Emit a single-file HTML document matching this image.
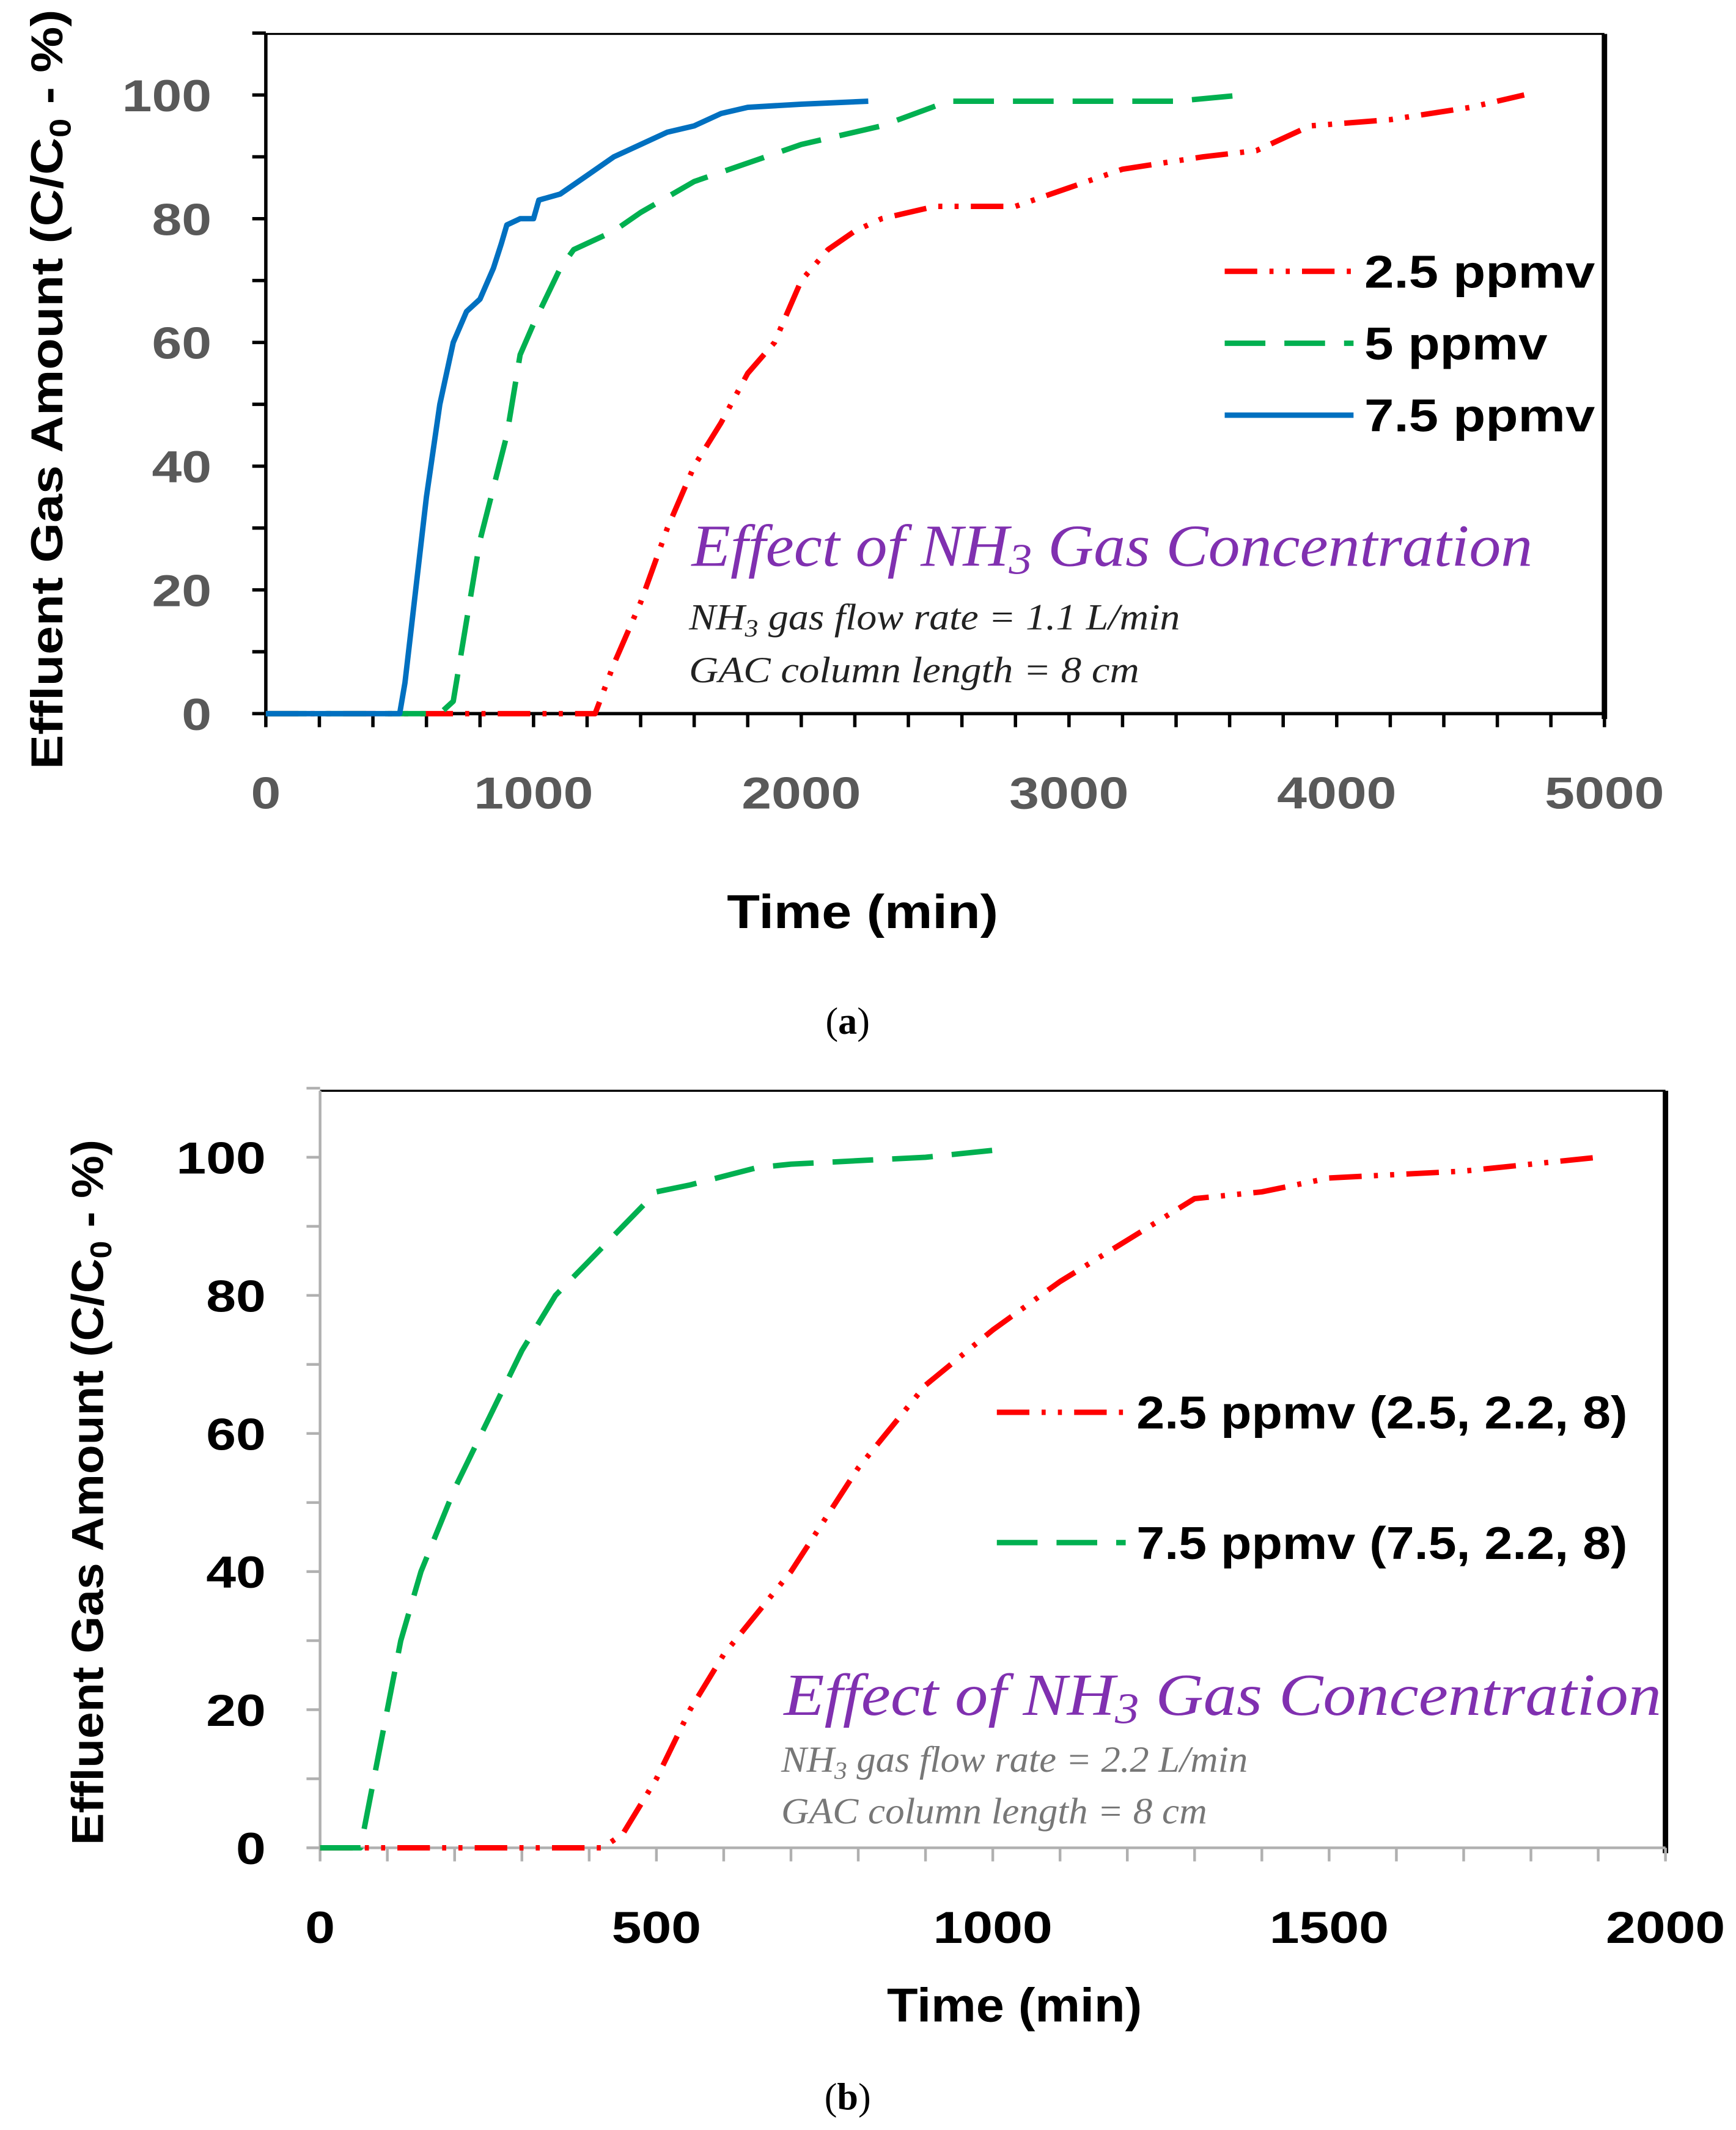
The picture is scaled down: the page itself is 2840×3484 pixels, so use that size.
<!DOCTYPE html>
<html><head><meta charset="utf-8"><style>
html,body{margin:0;padding:0;background:#fff;}
svg{display:block;}
text{font-family:"Liberation Sans",sans-serif;}
.ser{font-family:"Liberation Serif",serif;}
</style></head><body>
<svg id="svg" width="2840" height="3484" viewBox="0 0 1280 1570" preserveAspectRatio="none" xmlns="http://www.w3.org/2000/svg">
<g id="ga"></g>
<g id="gb"></g>
<text x="625" y="762" text-anchor="middle" class="ser" font-size="28">(<tspan font-weight="bold">a</tspan>)</text>
<text x="625" y="1555" text-anchor="middle" class="ser" font-size="28">(<tspan font-weight="bold">b</tspan>)</text>
</svg>
<script>
// Chart A data
const aBlueX=[0,500,520,560,600,650,700,750,800,850,880,900,950,1000,1020,1100,1200,1300,1400,1500,1600,1700,1800,2000,2250];
const aBlueY=[0,0,5,20,35,50,60,65,67,72,76,79,80,80,83,84,87,90,92,94,95,97,98,98.5,99];
const aGreenX=[0,650,700,750,800,900,950,1000,1100,1150,1300,1400,1600,1800,2000,2300,2550,3000,3400,3650];
const aGreenY=[0,0,2,15,28,45,58,63,72,75,78,81,86,89,92,95,99,99,99,100];
const aRedX=[0,1230,1300,1400,1500,1600,1700,1800,1900,1950,2000,2100,2200,2300,2500,2800,3000,3200,3500,3700,3900,4200,4500,4700];
const aRedY=[0,0,8,18,30,40,47,55,60,65,70,75,78,80,82,82,85,88,90,91,95,96,98,100];
const aXTicks=[0,1000,2000,3000,4000,5000];
const aYTicks=[0,20,40,60,80,100];
// Chart B data
const bGreenX=[0,60,90,120,150,200,250,300,350,400,450,500,550,650,700,800,900,1000];
const bGreenY=[0,0,15,30,40,52,62,72,80,85,90,95,96,98.5,99,99.5,100,101];
const bRedX=[0,420,450,500,550,600,700,800,900,1000,1100,1200,1300,1400,1500,1700,1900];
const bRedY=[0,0,2,10,20,28,40,55,67,75,82,88,94,95,97,98,100];
const bXTicks=[0,500,1000,1500,2000];
const bYTicks=[0,20,40,60,80,100];

const NS="http://www.w3.org/2000/svg";
function mk(p,tag,at,txt){const e=document.createElementNS(NS,tag);for(const k in at)e.setAttribute(k,at[k]);if(txt!==undefined)e.textContent=txt;p.appendChild(e);return e;}
function fit(e,len){e.setAttribute('textLength',len);e.setAttribute('lengthAdjust','spacingAndGlyphs');}

function chart(g,o){
  const sx=v=>o.x0+(v-o.xmin)/(o.xmax-o.xmin)*(o.x1-o.x0);
  const sy=v=>o.y0-(v/100)*(o.y0-o.y100);
  let e;
  e=mk(g,'line',{x1:o.x0,y1:o.top,x2:o.x1,y2:o.top,stroke:'#000','stroke-width':1.5});
  
  e=mk(g,'line',{x1:o.x1,y1:o.top,x2:o.x1,y2:o.y0+4,stroke:'#000','stroke-width':4});
  
  e=mk(g,'line',{x1:o.x0,y1:o.top,x2:o.x0,y2:o.y0,stroke:o.ax,'stroke-width':o.aw});
  
  e=mk(g,'line',{x1:o.x0-10,y1:o.y0,x2:o.x1,y2:o.y0,stroke:o.ax,'stroke-width':o.aw});
  
  for(let v=0;v<=110;v+=10){
    e=mk(g,'line',{x1:o.x0-10,y1:sy(v),x2:o.x0,y2:sy(v),stroke:o.ax,'stroke-width':o.aw});
    
  }
  o.yt.forEach(v=>{
    e=mk(g,'text',{x:o.x0-40,y:sy(v)+12,'text-anchor':'end','font-size':33,'font-weight':'bold',fill:o.tc},String(v));
    fit(e,String(v).length*22);
    
  });
  const step=(o.xt[1]-o.xt[0])/5;
  for(let v=o.xmin;v<=o.xmax+1e-6;v+=step){
    e=mk(g,'line',{x1:sx(v),y1:o.y0,x2:sx(v),y2:o.y0+10,stroke:o.ax,'stroke-width':o.aw});
    
  }
  o.xt.forEach(v=>{
    e=mk(g,'text',{x:sx(v),y:o.y0+70,'text-anchor':'middle','font-size':33,'font-weight':'bold',fill:o.tc},String(v));
    fit(e,String(v).length*22);
    
  });
  e=mk(g,'text',{x:o.xtX,y:o.xtY,'text-anchor':'middle','font-size':35,'font-weight':'bold',fill:'#000'},'Time (min)');
  fit(e,o.xtL);
  
  e=mk(g,'text',{transform:`translate(${o.ytX},${o.ytY}) rotate(-90)`,'text-anchor':'middle','font-size':33,'font-weight':'bold',fill:'#000'});
  e.innerHTML='Effluent Gas Amount (C/C<tspan font-size="22" dy="6">0</tspan><tspan dy="-6"> - %)</tspan>';
  fit(e,o.ytL);
  
  o.series.forEach(s=>{
    const d=s.x.map((v,i)=>(i?'L':'M')+sx(v).toFixed(1)+','+sy(s.y[i]).toFixed(1)).join(' ');
    e=mk(g,'path',{d:d,fill:'none',stroke:s.c,'stroke-width':4,'stroke-dasharray':s.dash||'none','stroke-linejoin':'round'});
    
  });
  o.legend.forEach(l=>{
    e=mk(g,'line',{x1:l.x,y1:l.y,x2:l.x+95,y2:l.y,stroke:l.c,'stroke-width':4,'stroke-dasharray':l.dash||'none'});
    
    e=mk(g,'text',{x:l.x+103,y:l.y+12,'font-size':34,'font-weight':'bold',fill:'#000'},l.t);
    fit(e,l.w);
    
  });
  e=mk(g,'text',{x:o.an.x,y:o.an.y,'font-size':44,'font-style':'italic',fill:'#8030b0',class:'ser'});
  e.innerHTML='Effect of NH<tspan font-size="32" dy="6">3</tspan><tspan dy="-6"> Gas Concentration</tspan>';
  fit(e,o.an.w);
  
  e=mk(g,'text',{x:o.an.x-2,y:o.an.y+o.an.d1,'font-size':27,'font-style':'italic',fill:o.an.c,class:'ser'});
  e.innerHTML='NH<tspan font-size="18" dy="5">3</tspan><tspan dy="-5"> gas flow rate = '+o.an.f+' L/min</tspan>';
  fit(e,o.an.w1);
  
  e=mk(g,'text',{x:o.an.x-2,y:o.an.y+o.an.d2,'font-size':27,'font-style':'italic',fill:o.an.c,class:'ser'},'GAC column length = 8 cm');
  fit(e,o.an.w2);
  
}
const RD='24 9 3 9 3 9', GD='30 14';
chart(document.getElementById('ga'),{x0:196,x1:1183,xmin:0,xmax:5000,y0:526,y100:70,top:25,ax:'#000',aw:2.5,tc:'#595959',
  xt:aXTicks,yt:aYTicks,xtX:636,xtY:684,xtL:200,ytX:46,ytY:287,ytL:560,
  series:[{x:aRedX,y:aRedY,c:'#ff0000',dash:RD,name:'series-2.5-ppmv'},{x:aGreenX,y:aGreenY,c:'#00b050',dash:GD,name:'series-5-ppmv'},{x:aBlueX,y:aBlueY,c:'#0070c0',name:'series-7.5-ppmv'}],
  legend:[{x:903,y:200,c:'#ff0000',dash:RD,t:'2.5 ppmv',w:170},{x:903,y:253,c:'#00b050',dash:GD,t:'5 ppmv',w:135},{x:903,y:306,c:'#0070c0',t:'7.5 ppmv',w:170}],
  an:{x:510,y:417,f:'1.1',c:'#222',w:620,d1:47,d2:86,w1:362,w2:332}});
chart(document.getElementById('gb'),{x0:236,x1:1228,xmin:0,xmax:2000,y0:1362,y100:853,top:804,ax:'#b0b0b0',aw:2,tc:'#000',
  xt:bXTicks,yt:bYTicks,xtX:748,xtY:1490,xtL:188,ytX:76,ytY:1100,ytL:520,
  series:[{x:bRedX,y:bRedY,c:'#ff0000',dash:RD,name:'series-2.5-ppmv'},{x:bGreenX,y:bGreenY,c:'#00b050',dash:GD,name:'series-7.5-ppmv'}],
  legend:[{x:735,y:1041,c:'#ff0000',dash:RD,t:'2.5 ppmv (2.5, 2.2, 8)',w:362},{x:735,y:1137,c:'#00b050',dash:GD,t:'7.5 ppmv (7.5, 2.2, 8)',w:362}],
  an:{x:578,y:1264,f:'2.2',c:'#777',w:647,d1:42,d2:80,w1:344,w2:314}});
</script>
</body></html>
